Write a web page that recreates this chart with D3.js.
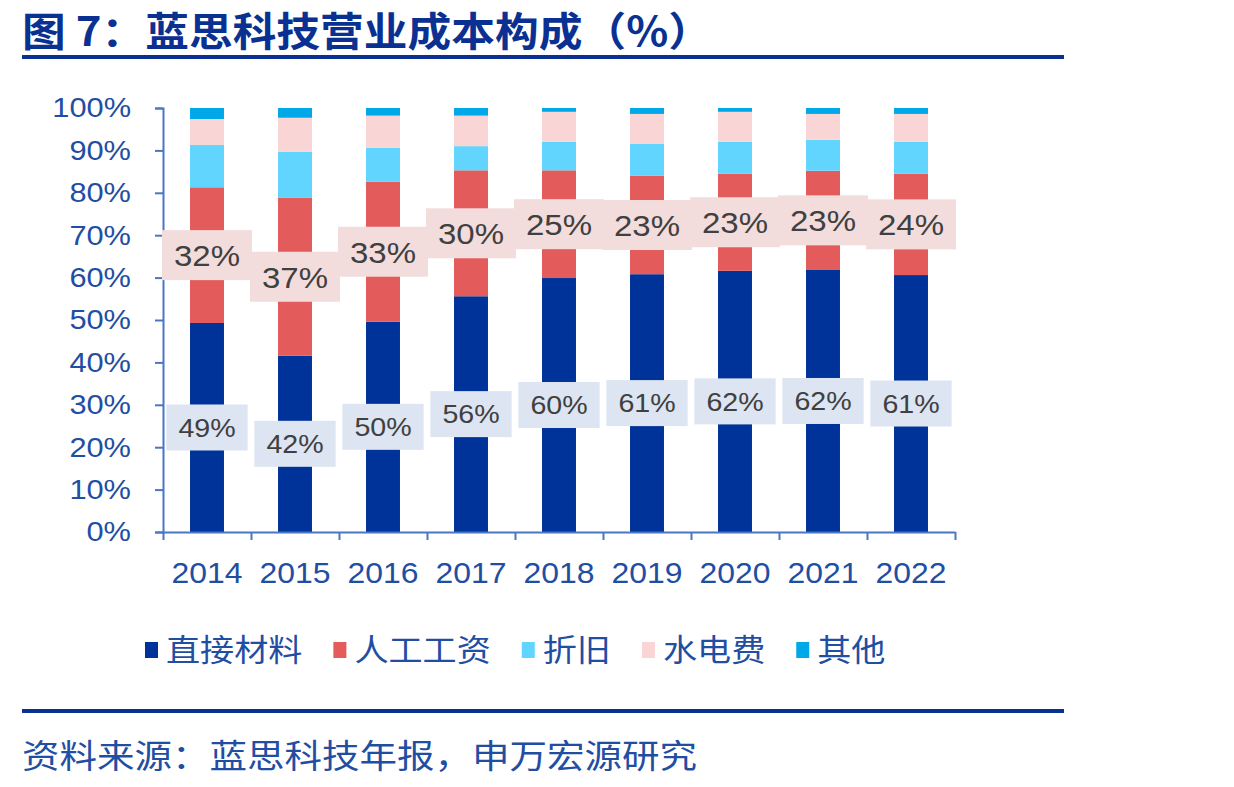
<!DOCTYPE html>
<html>
<head>
<meta charset="utf-8">
<script src="https://cdn.jsdelivr.net/npm/d3@7"></script>
<style>
  body { margin: 0; background: #fff; }
  svg { display: block; }
</style>
</head>
<body>
<svg id="chart" width="1234" height="787"></svg>
<script>
// data (% of operating cost)
var years = ["2014", "2015", "2016", "2017", "2018", "2019", "2020", "2021", "2022"];
var direct = [49.3, 41.6, 49.6, 55.6, 59.9, 60.8, 61.6, 61.8, 60.6];   // 直接材料
var labor  = [32.0, 37.2, 33.0, 29.7, 25.4, 23.2, 22.9, 23.4, 23.9];   // 人工工资
var depr   = [10.0, 10.9, 8.0, 5.7, 6.7, 7.6, 7.5, 7.3, 7.5];          // 折旧
var util   = [6.1, 8.0, 7.6, 7.2, 7.1, 7.0, 7.1, 6.1, 6.6];            // 水电费
var other  = [2.6, 2.3, 1.8, 1.8, 0.9, 1.4, 0.9, 1.4, 1.4];            // 其他
var seriesNames = ["直接材料", "人工工资", "折旧", "水电费", "其他"];
var yTicks = [0, 10, 20, 30, 40, 50, 60, 70, 80, 90, 100];

var colors = ["#003399", "#e35b5b", "#62d5fe", "#f9d5d5", "#00a8e8"];
var blueText = "#1f4ea3";
var axisColor = "#4a76c4";
var latin = "'Liberation Sans', Arial, sans-serif";
var cjk = "'Noto Sans CJK SC', 'Noto Sans', sans-serif";
var sx = 1.1; // the source picture is a bit wide, stretch text to match

var svg = d3.select("#chart");

var table = years.map(function(y, i) {
  return { year: y, "直接材料": direct[i], "人工工资": labor[i], "折旧": depr[i], "水电费": util[i], "其他": other[i] };
});

var x = d3.scaleBand()
  .domain(years)
  .range([163, 955])
  .paddingInner(0.614)
  .paddingOuter(0.307);

var y = d3.scaleLinear()
  .domain([0, 100])
  .range([532, 108]);

var z = d3.scaleOrdinal().domain(seriesNames).range(colors);

// title + rules
svg.append("text")
  .attr("x", 22).attr("y", 46)
  .attr("font-family", cjk).attr("font-weight", 700)
  .attr("font-size", 40).attr("fill", "#0a3192")
  .attr("textLength", 690).attr("lengthAdjust", "spacingAndGlyphs")
  .text("图 7：蓝思科技营业成本构成（%）");

svg.append("line").attr("x1", 22).attr("x2", 1064).attr("y1", 57).attr("y2", 57)
  .attr("stroke", "#0a3192").attr("stroke-width", 4);
svg.append("line").attr("x1", 22).attr("x2", 1064).attr("y1", 711).attr("y2", 711)
  .attr("stroke", "#0a3192").attr("stroke-width", 4);

svg.append("text")
  .attr("x", 22).attr("y", 768)
  .attr("font-family", cjk)
  .attr("font-size", 33).attr("fill", blueText)
  .attr("textLength", 675).attr("lengthAdjust", "spacingAndGlyphs")
  .text("资料来源：蓝思科技年报，申万宏源研究");

// stacked bars
var stacked = d3.stack().keys(seriesNames)(table);

svg.append("g")
  .selectAll("g")
  .data(stacked)
  .enter().append("g")
    .attr("fill", function(d) { return z(d.key); })
  .selectAll("rect")
  .data(function(d) { return d; })
  .enter().append("rect")
    .attr("x", function(d) { return x(d.data.year); })
    .attr("y", function(d) { return y(d[1]); })
    .attr("height", function(d) { return y(d[0]) - y(d[1]); })
    .attr("width", x.bandwidth());

// y axis
var yAxis = d3.axisLeft(y)
  .tickValues(yTicks)
  .tickFormat(function(d) { return d + "%"; })
  .tickSize(8)
  .tickSizeOuter(8);

var gy = svg.append("g")
  .attr("transform", "translate(163,0)")
  .call(yAxis);
gy.select(".domain").attr("stroke", axisColor).attr("stroke-width", 2);
gy.selectAll(".tick line").attr("stroke", axisColor).attr("stroke-width", 2);
gy.selectAll(".tick text")
  .attr("x", -32 / sx)
  .attr("transform", "scale(" + sx + ",1)")
  .attr("font-family", latin).attr("font-size", 28)
  .attr("fill", blueText);

// x axis: ticks between categories
var xb = d3.scaleLinear().domain([0, years.length]).range(x.range());
var gx = svg.append("g")
  .attr("transform", "translate(0,532)")
  .call(d3.axisBottom(xb).tickValues(d3.range(years.length + 1)).tickFormat("").tickSize(8).tickSizeOuter(0));
gx.select(".domain").attr("stroke", axisColor).attr("stroke-width", 2);
gx.selectAll(".tick line").attr("stroke", axisColor).attr("stroke-width", 2);

var gxl = svg.append("g")
  .attr("transform", "translate(0,532)")
  .call(d3.axisBottom(x).tickSize(0));
gxl.select(".domain").remove();
gxl.selectAll(".tick text")
  .attr("y", 51).attr("dy", 0)
  .attr("transform", "scale(" + sx + ",1)")
  .attr("font-family", latin).attr("font-size", 29)
  .attr("fill", blueText);

// data labels with boxes
function addLabels(key, fill, fontSize, padX, boxH) {
  var series = stacked.filter(function(s) { return s.key === key; })[0];
  var g = svg.append("g");
  series.forEach(function(d) {
    var cx = x(d.data.year) + x.bandwidth() / 2;
    var cy = y((d[0] + d[1]) / 2);
    var lg = g.append("g").attr("transform", "translate(" + cx + "," + cy + ")");
    var rect = lg.append("rect").attr("fill", fill);
    var t = lg.append("text")
      .attr("text-anchor", "middle")
      .attr("dy", "0.36em")
      .attr("transform", "scale(" + sx + ",1)")
      .attr("font-family", latin).attr("font-size", fontSize)
      .attr("fill", "#404040")
      .text(Math.round(d[1] - d[0]) + "%");
    var w = t.node().getComputedTextLength() * sx + padX * 2;
    rect.attr("x", -w / 2).attr("y", -boxH / 2).attr("width", w).attr("height", boxH);
  });
}
addLabels("直接材料", "#dce5f1", 26, 12, 46);
addLabels("人工工资", "#f3dcdc", 30, 12, 50);

// legend
var lx = 145;
var legend = svg.append("g").attr("transform", "translate(0,650)");
seriesNames.forEach(function(name) {
  legend.append("rect")
    .attr("x", lx).attr("y", -8).attr("width", 13).attr("height", 16)
    .attr("fill", z(name));
  var t = legend.append("text")
    .attr("transform", "translate(" + (lx + 21) + ",0) scale(" + sx + ",1)")
    .attr("dy", "0.36em")
    .attr("font-family", cjk).attr("font-size", 31)
    .attr("fill", blueText)
    .text(name);
  lx += 21 + t.node().getComputedTextLength() * sx + 31;
});
</script>
</body>
</html>
